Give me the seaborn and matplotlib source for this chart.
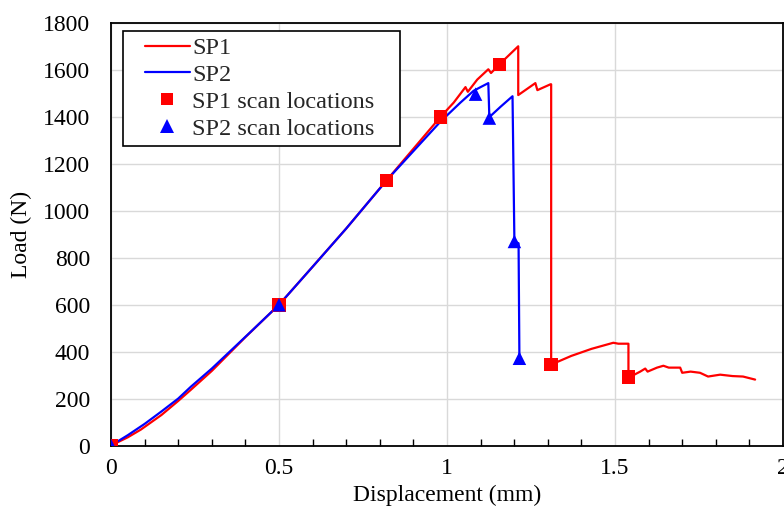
import matplotlib
matplotlib.use("Agg")
import matplotlib.pyplot as plt
from matplotlib.lines import Line2D
from matplotlib.legend_handler import HandlerLine2D
from matplotlib.ticker import MultipleLocator
import pandas as pd
import seaborn as sns

# ---- data ----
sp1_disp = [0, 0.05, 0.089, 0.15, 0.2, 0.238, 0.3, 0.4, 0.5, 0.6, 0.7, 0.82, 0.9, 0.98,
            1.02, 1.055, 1.062, 1.09, 1.123, 1.131, 1.156, 1.212, 1.212, 1.263, 1.269,
            1.308, 1.31, 1.31, 1.37, 1.43, 1.495, 1.51, 1.54, 1.54, 1.575, 1.59, 1.597,
            1.625, 1.644, 1.66, 1.694, 1.70, 1.725, 1.753, 1.777, 1.813, 1.85, 1.881, 1.917]
sp1_load = [0, 35, 68, 130, 190, 238, 318, 462, 600, 762, 925, 1130, 1265, 1400,
            1462, 1528, 1508, 1560, 1604, 1588, 1625, 1702, 1494, 1545, 1515,
            1540, 1540, 345, 382, 412, 438, 434, 434, 289, 315, 328, 315,
            332, 340, 332, 332, 310, 315, 310, 294, 302, 296, 294, 281]

sp2_disp = [0, 0.05, 0.1, 0.15, 0.2, 0.238, 0.3, 0.416, 0.5, 0.6, 0.7, 0.82, 0.9, 0.98,
            1.04, 1.079, 1.10, 1.123, 1.126, 1.16, 1.195, 1.2006, 1.213, 1.2155]
sp2_load = [0, 44, 92, 145, 200, 251, 328, 485, 600, 762, 925, 1130, 1255, 1380,
            1462, 1512, 1528, 1545, 1400, 1445, 1489, 870, 862, 370]

sp1_scan_disp = [0, 0.5, 0.82, 0.98, 1.156, 1.31, 1.54]
sp1_scan_load = [0, 600, 1130, 1400, 1625, 345, 292]
sp2_scan_disp = [0, 0.5, 1.085, 1.126, 1.2006, 1.2155]
sp2_scan_load = [0, 600, 1498, 1396, 870, 372]

x_ticks = [0, 0.5, 1, 1.5, 2]
x_tick_labels = ["0", "0.5", "1", "1.5", "2"]
y_ticks = [0, 200, 400, 600, 800, 1000, 1200, 1400, 1600, 1800]

# ---- style ----
sns.set_theme(style="white")
plt.rcParams['font.family'] = ['Liberation Serif', 'DejaVu Serif']

RED = '#ff0000'
BLUE = '#0000ff'

fig, ax = plt.subplots(figsize=(7.84, 5.14), dpi=100)
fig.subplots_adjust(left=111/784, right=783/784, bottom=(514-445.5)/514, top=(514-23.3)/514)

lines = pd.concat([
    pd.DataFrame({'Displacement': sp1_disp, 'Load': sp1_load, 'Series': 'SP1'}),
    pd.DataFrame({'Displacement': sp2_disp, 'Load': sp2_load, 'Series': 'SP2'}),
], ignore_index=True)
scans = pd.concat([
    pd.DataFrame({'Displacement': sp1_scan_disp, 'Load': sp1_scan_load, 'Series': 'SP1 scan locations'}),
    pd.DataFrame({'Displacement': sp2_scan_disp, 'Load': sp2_scan_load, 'Series': 'SP2 scan locations'}),
], ignore_index=True)

sns.lineplot(data=lines, x='Displacement', y='Load', hue='Series',
             palette={'SP1': RED, 'SP2': BLUE}, sort=False, estimator=None,
             linewidth=1.6, ax=ax, legend=False)
sns.scatterplot(data=scans, x='Displacement', y='Load', hue='Series', style='Series',
                palette={'SP1 scan locations': RED, 'SP2 scan locations': BLUE},
                markers={'SP1 scan locations': 's', 'SP2 scan locations': '^'},
                s=95, linewidth=0, ax=ax, legend=False, zorder=5)

ax.set_xlim(0, 2)
ax.set_ylim(0, 1800)
ax.set_xticks(x_ticks)
ax.set_xticklabels(x_tick_labels)
ax.set_yticks(y_ticks)
ax.xaxis.set_minor_locator(MultipleLocator(0.1))

ax.grid(True, which='major', color='#d9d9d9', linewidth=1.0)
ax.set_axisbelow(True)
for sp in ax.spines.values():
    sp.set_visible(True)
    sp.set_color('black')
    sp.set_linewidth(1.3)

ax.tick_params(axis='both', which='major', direction='in', length=7, width=1.2,
               color='black', labelsize=17, labelcolor='black')
ax.tick_params(axis='x', which='minor', direction='in', length=5, width=1.0,
               color='black', bottom=True)
ax.tick_params(axis='x', which='major', pad=9)
ax.tick_params(axis='y', which='major', pad=15)

ax.set_xlabel('Displacement (mm)', fontsize=17, color='black', labelpad=4)
ax.set_ylabel('Load (N)', fontsize=17, color='black', labelpad=8)

handles = [
    Line2D([], [], color=RED, linewidth=1.6),
    Line2D([], [], color=BLUE, linewidth=1.6),
    Line2D([], [], color=RED, marker='s', linestyle='none', markersize=9, markeredgewidth=0),
    Line2D([], [], color=BLUE, marker='^', linestyle='none', markersize=9.5, markeredgewidth=0),
]
labels = ['SP1', 'SP2', 'SP1 scan locations', 'SP2 scan locations']
hmap = {h: HandlerLine2D(xpad=0.65) for h in handles}
x0 = (123 - 111) / 672
x1 = (400 - 111) / 672
y1 = (445.5 - 31) / 422.2
leg = ax.legend(handles, labels, loc='upper left', bbox_to_anchor=(x0, y1 - 0.3, x1 - x0, 0.3),
                mode='expand', handler_map=hmap,
                fontsize=17.5, frameon=True, fancybox=False, framealpha=1,
                edgecolor='black', handlelength=2.5, handletextpad=0.1,
                labelspacing=0.2, borderpad=0.25, borderaxespad=0)
leg.get_frame().set_linewidth(1.2)

fig.savefig('out.png', dpi=100)
